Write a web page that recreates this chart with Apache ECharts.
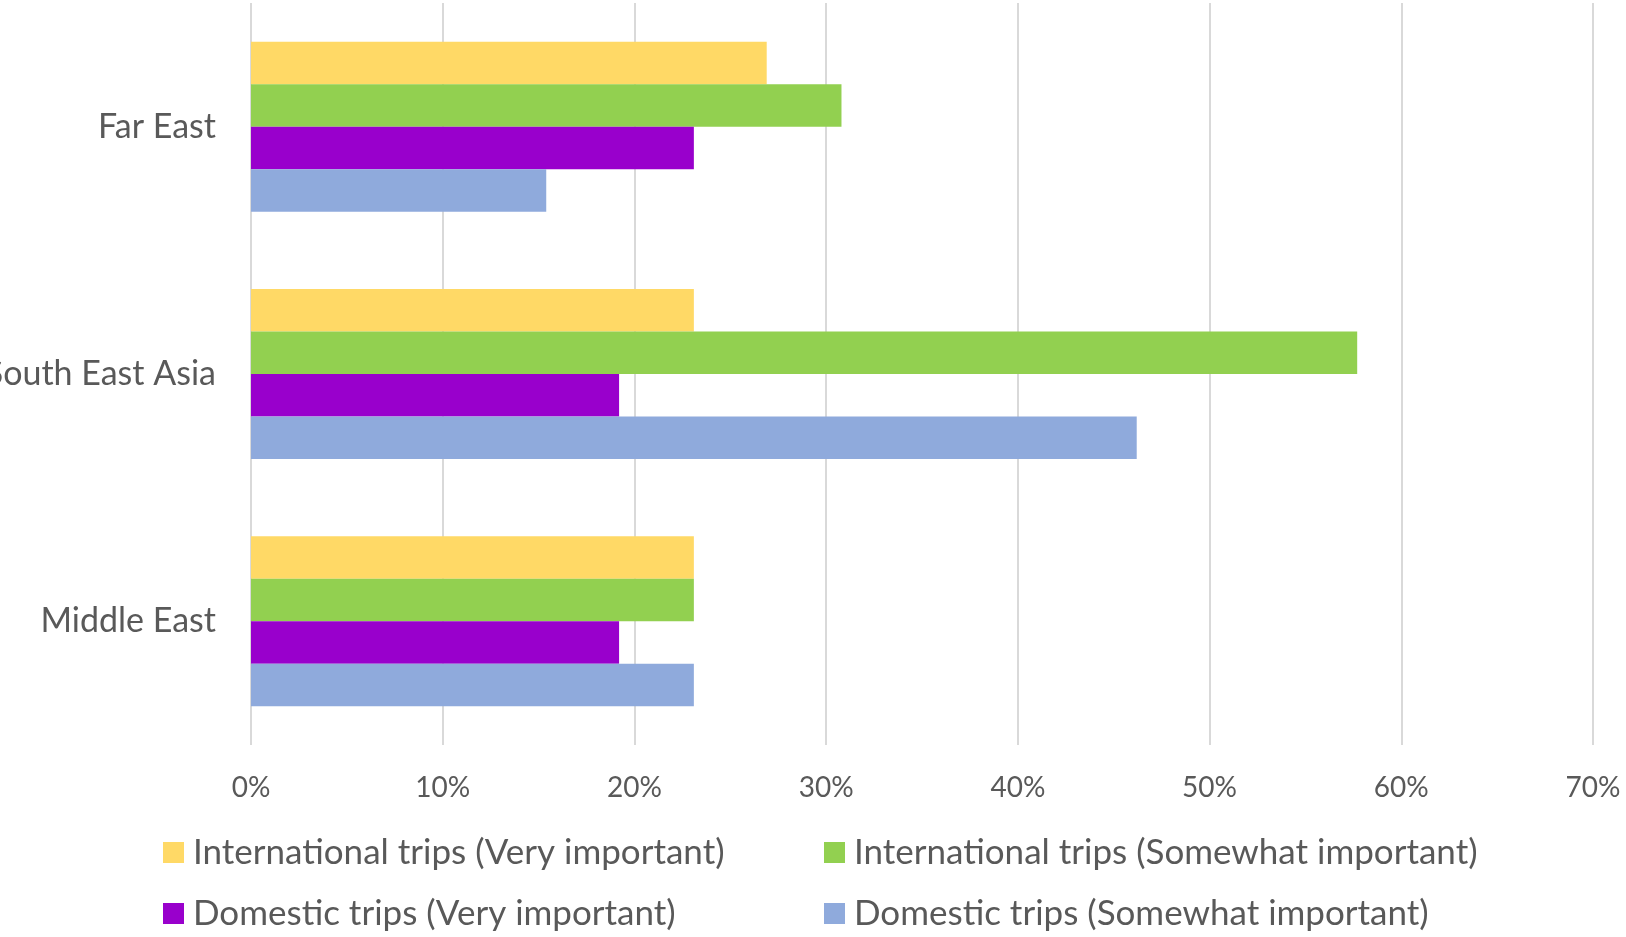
<!DOCTYPE html>
<html>
<head>
<meta charset="utf-8">
<script src="https://cdn.jsdelivr.net/npm/echarts@6/dist/echarts.min.js"></script>
<style>
  html, body { margin: 0; padding: 0; background: #fff; }
  #chart { width: 1626px; height: 937px; }
</style>
</head>
<body>
<div id="chart"></div>
<script>
(function() {
"use strict";

    // 类目与数据（百分比）
    var regions = ['Far East', 'South East Asia', 'Middle East'];
    var seriesNames = [
        'International trips (Very important)',
        'International trips (Somewhat important)',
        'Domestic trips (Very important)',
        'Domestic trips (Somewhat important)'
    ];
    var intlVery = [26.9, 23.1, 23.1];
    var intlSomewhat = [30.8, 57.7, 23.1];
    var domVery = [23.1, 19.2, 19.2];
    var domSomewhat = [15.4, 46.2, 23.1];
    var tickValues = [0, 10, 20, 30, 40, 50, 60, 70];

    var colors = ['#FFD966', '#92D050', '#9900CC', '#8FAADC'];
    var textColor = '#595959';
    var font = 'Lato';

    var seriesData = [intlVery, intlSomewhat, domVery, domSomewhat];
    var series = [];
    for (var i = 0; i < seriesNames.length; i++) {
        series.push({
            name: seriesNames[i],
            type: 'bar',
            data: seriesData[i],
            barWidth: 42.5,
            barGap: '0%',
            itemStyle: { color: colors[i] }
        });
    }

    // 图例：每项单独放置，两列对齐
    var legendPos = [[163, 835], [824, 835], [163, 896], [824, 896]];
    var legends = [];
    for (var j = 0; j < seriesNames.length; j++) {
        legends.push({
            data: [seriesNames[j]],
            left: legendPos[j][0],
            top: legendPos[j][1],
            padding: 0,
            itemWidth: 21,
            itemHeight: 21,
            icon: 'rect',
            textStyle: {
                color: textColor,
                fontSize: 35,
                fontFamily: font,
                padding: [0, 0, 0, 4]
            }
        });
    }

    var myChart = echarts.init(document.getElementById('chart'));
    var option = {
        animation: false,
        color: colors,
        grid: {
            left: 251,
            right: 33,
            top: 3,
            bottom: 937 - 745,
            containLabel: false,
            outerBoundsMode: 'none'
        },
        legend: legends,
        xAxis: {
            type: 'value',
            min: tickValues[0],
            max: tickValues[tickValues.length - 1],
            interval: 10,
            axisLine: { show: false },
            axisTick: { show: false },
            splitLine: { show: true, lineStyle: { color: '#D9D9D9', width: 2 } },
            axisLabel: {
                color: textColor,
                fontSize: 28,
                fontFamily: font,
                margin: 29,
                formatter: '{value}%'
            }
        },
        yAxis: {
            type: 'category',
            data: regions,
            inverse: true,
            axisLine: { show: false },
            axisTick: { show: false },
            axisLabel: {
                color: textColor,
                fontSize: 34,
                fontFamily: font,
                margin: 35
            }
        },
        series: series
    };
    myChart.setOption(option);
})();
</script>
</body>
</html>
